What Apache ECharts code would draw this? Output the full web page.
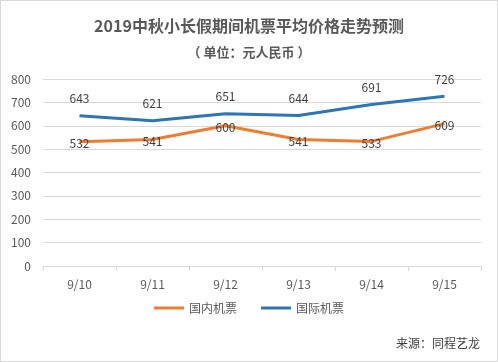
<!DOCTYPE html>
<html><head><meta charset="utf-8">
<script src="https://cdn.jsdelivr.net/npm/echarts@6/dist/echarts.min.js"></script>
<style>html,body{margin:0;padding:0;background:#fff}#c{width:498px;height:362px;box-sizing:border-box;border:1px solid #d9d9d9}</style>
</head><body><div id="c"></div>
<script>
const categories = ['9/10','9/11','9/12','9/13','9/14','9/15'];
const domestic = [532,541,600,541,533,609];
const international = [643,621,651,644,691,726];
const yTicks = [0,100,200,300,400,500,600,700,800];
const chart = echarts.init(document.getElementById('c'));
const font = '"Microsoft YaHei","Noto Sans CJK SC",sans-serif';
chart.setOption({
  animation:false,
  title:[{text:'2019中秋小长假期间机票平均价格走势预测',left:'center',top:12,textStyle:{fontSize:16,fontWeight:'bold',color:'#595959',fontFamily:font}},
         {text:'（ 单位：元人民币 ）',left:'center',top:40,textStyle:{fontSize:13,fontWeight:'bold',color:'#595959',fontFamily:font}},
         {text:'来源：同程艺龙',right:12,top:331,textStyle:{fontSize:12,fontWeight:'normal',color:'#404040',fontFamily:font}}],
  legend:{bottom:42,left:'center',itemWidth:30,itemHeight:3,itemGap:24,icon:'rect',textStyle:{color:'#595959',fontSize:12,fontFamily:font},data:['国内机票','国际机票']},
  grid:{left:42,right:16,top:78,bottom:95},
  xAxis:{type:'category',data:categories,boundaryGap:true,axisLine:{lineStyle:{color:'#d9d9d9'}},axisTick:{show:true,lineStyle:{color:'#d9d9d9'}},axisLabel:{color:'#595959',fontSize:12,margin:12,fontFamily:font}},
  yAxis:{type:'value',min:yTicks[0],max:yTicks[yTicks.length-1],interval:100,axisLine:{show:false},axisTick:{show:false},splitLine:{lineStyle:{color:'#d9d9d9'}},axisLabel:{color:'#595959',fontSize:12,margin:12,fontFamily:font}},
  series:[
    {name:'国内机票',type:'line',data:domestic,symbol:'circle',symbolSize:0.1,showSymbol:true,lineStyle:{width:3,color:'#ED7D31'},itemStyle:{color:'#ED7D31'},
     label:{show:true,position:'inside',offset:[0,2],color:'#404040',fontSize:12,fontFamily:font}},
    {name:'国际机票',type:'line',data:international,symbol:'circle',symbolSize:0.1,showSymbol:true,lineStyle:{width:3,color:'#2E75B6'},itemStyle:{color:'#2E75B6'},
     label:{show:true,position:'top',distance:11,color:'#404040',fontSize:12,fontFamily:font}}
  ]
});
</script></body></html>
